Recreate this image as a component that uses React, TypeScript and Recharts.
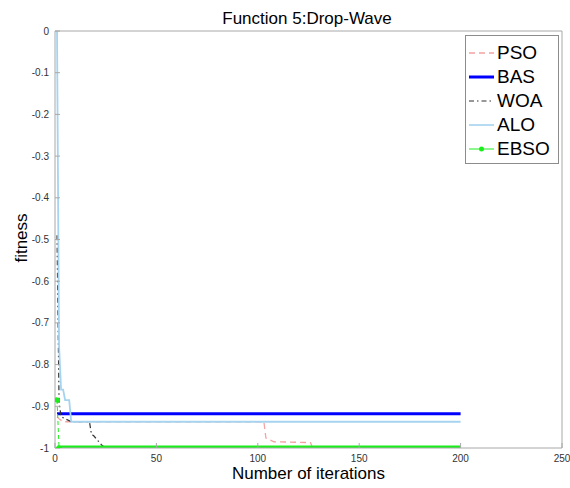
import React from 'react';
import { LineChart, Line, XAxis, YAxis } from 'recharts';

// best-so-far fitness per algorithm, sampled where the curve changes
const psoIter = [1, 2, 4, 103, 104, 108, 126, 127, 200];
const psoFit = [-0.925, -0.93, -0.937, -0.937, -0.976, -0.985, -0.987, -1, -1];

const basIter = [1, 200];
const basFit = [-0.918, -0.918];

const woaIter = [1, 2, 3, 5, 8, 17, 18, 19, 23, 25, 200];
const woaFit = [-0.49, -0.89, -0.925, -0.93, -0.937, -0.937, -0.968, -0.97, -0.993, -1, -1];

const aloIter = [1, 2, 3, 4, 5, 7, 8, 200];
const aloFit = [0, -0.755, -0.86, -0.86, -0.885, -0.885, -0.937, -0.937];

const ebsoIter = [1, 2, 200];
const ebsoFit = [-0.885, -1, -1];

const xTicks = [0, 50, 100, 150, 200, 250];
const yTicks = [0, -0.1, -0.2, -0.3, -0.4, -0.5, -0.6, -0.7, -0.8, -0.9, -1];

const toPoints = (iters: number[], fits: number[]) => iters.map((it, i) => ({ it, v: fits[i] }));

const pso = toPoints(psoIter, psoFit);
const bas = toPoints(basIter, basFit);
const woa = toPoints(woaIter, woaFit);
const alo = toPoints(aloIter, aloFit);
const ebso = toPoints(ebsoIter, ebsoFit);

const FONT = '"Liberation Sans", Arial, Helvetica, sans-serif';
const FRAME = '#a8a8a8';
const GREEN = '#1aee1a';

const legendItems = [
  { name: 'PSO', color: '#f4a3a3', width: 1.3, dash: '6 4', dot: false },
  { name: 'BAS', color: '#0000ff', width: 3, dash: undefined, dot: false },
  { name: 'WOA', color: '#333333', width: 1.2, dash: '5 3 1.5 3', dot: false },
  { name: 'ALO', color: '#a6d3ef', width: 1.6, dash: undefined, dot: false },
  { name: 'EBSO', color: GREEN, width: 1, dash: undefined, dot: true },
];

const LegendBox = () => (
  <div
    style={{
      position: 'absolute',
      left: 465,
      top: 35,
      width: 92,
      height: 122,
      border: '1px solid #8c8c8c',
      background: '#fff',
      fontSize: 19,
      lineHeight: '24px',
      color: '#000',
      paddingTop: 5,
    }}
  >
    {legendItems.map((it) => (
      <div key={it.name} style={{ display: 'flex', alignItems: 'center', height: 24 }}>
        <svg width={28} height={10} style={{ marginLeft: 2, flex: 'none' }}>
          <line x1={1} y1={5} x2={26} y2={5} stroke={it.color} strokeWidth={it.width} strokeDasharray={it.dash} />
          {it.dot && <circle cx={13.5} cy={5} r={2.5} fill={it.color} />}
        </svg>
        <span style={{ marginLeft: 1 }}>{it.name}</span>
      </div>
    ))}
  </div>
);

const tickStyle = { fontSize: 10, fill: '#333', fontFamily: FONT };

export default function App() {
  return (
    <div style={{ position: 'absolute', left: 0, top: 0, width: 570, height: 488, background: '#fff', fontFamily: FONT }}>
      <LineChart width={570} height={488} margin={{ top: 30, right: 7, bottom: 0, left: 0 }} style={{ position: 'absolute', left: 0, top: 0 }}>
        <XAxis
          dataKey="it"
          type="number"
          domain={[0, 250]}
          ticks={xTicks}
          height={40}
          tick={tickStyle}
          tickSize={-5}
          tickMargin={12}
          stroke={FRAME}
          allowDataOverflow
        />
        <XAxis
          xAxisId="top"
          orientation="top"
          type="number"
          domain={[0, 250]}
          ticks={xTicks}
          height={1}
          tickFormatter={() => ''}
          tickSize={-5}
          stroke={FRAME}
        />
        <YAxis
          type="number"
          domain={[-1, 0]}
          ticks={yTicks}
          width={55}
          tick={tickStyle}
          tickSize={-5}
          tickMargin={11}
          tickFormatter={(v: number) => String(v)}
          stroke={FRAME}
          allowDataOverflow
        />
        <YAxis
          yAxisId="right"
          orientation="right"
          type="number"
          domain={[-1, 0]}
          ticks={yTicks}
          width={1}
          tickFormatter={() => ''}
          tickSize={-5}
          stroke={FRAME}
        />
        <Line data={pso} dataKey="v" name="PSO" stroke="#f4a3a3" strokeWidth={1.3} strokeDasharray="6 4" dot={false} isAnimationActive={false} />
        <Line data={bas} dataKey="v" name="BAS" stroke="#0000ff" strokeWidth={3} dot={false} isAnimationActive={false} />
        <Line data={woa} dataKey="v" name="WOA" stroke="#333333" strokeWidth={1.2} strokeDasharray="5 3 1.5 3" dot={false} isAnimationActive={false} />
        <Line data={alo} dataKey="v" name="ALO" stroke="#a6d3ef" strokeWidth={1.8} dot={false} isAnimationActive={false} />
        {/* EBSO: thin dashed drop from the first sample, then the marker-packed plateau */}
        <Line
          data={ebso.slice(0, 2)}
          dataKey="v"
          name="EBSO"
          stroke={GREEN}
          strokeWidth={1}
          strokeDasharray="4 3"
          dot={{ r: 2.5, fill: GREEN, stroke: GREEN }}
          isAnimationActive={false}
        />
        <Line data={ebso.slice(1)} dataKey="v" name="EBSO " stroke={GREEN} strokeWidth={5} dot={false} isAnimationActive={false} />
      </LineChart>
      <div style={{ position: 'absolute', left: 55, top: 9, width: 504, textAlign: 'center', fontSize: 17, lineHeight: '20px' }}>
        Function 5:Drop-Wave
      </div>
      <div style={{ position: 'absolute', left: 55, top: 464, width: 507, textAlign: 'center', fontSize: 17, lineHeight: '20px' }}>
        Number of iterations
      </div>
      <div
        style={{
          position: 'absolute',
          left: -28,
          top: 228,
          width: 100,
          height: 20,
          textAlign: 'center',
          fontSize: 17,
          lineHeight: '20px',
          transform: 'rotate(-90deg)',
        }}
      >
        fitness
      </div>
      <LegendBox />
    </div>
  );
}
